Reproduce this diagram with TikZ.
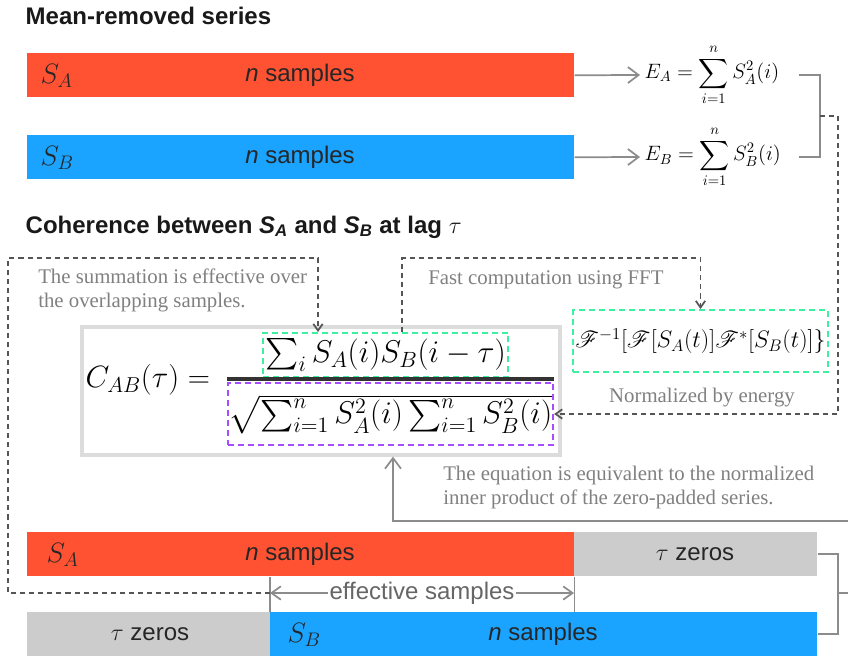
\RequirePackage{fix-cm}
\documentclass[tikz,border=0pt]{standalone}
\usepackage{amsmath,amssymb}
\usepackage{mathrsfs}
\usepackage{fontspec}
\setmainfont{Liberation Serif}
\setsansfont{Liberation Sans}
\usepackage{tikz}
\usetikzlibrary{arrows.meta}

\definecolor{sared}{HTML}{FF5233}
\definecolor{sbblue}{HTML}{1AA3FF}
\definecolor{zerogray}{HTML}{CCCCCC}
\definecolor{linegray}{HTML}{8C8C8C}
\definecolor{dashgray}{HTML}{555555}
\definecolor{notegray}{HTML}{808080}
\definecolor{fftgreen}{HTML}{3CF0A0}
\definecolor{denpurple}{HTML}{A64DFF}
\definecolor{framegray}{HTML}{DCDCDC}

\tikzset{
  series/.style={rectangle, inner sep=0pt, minimum height=33pt, anchor=north west},
  barlabel/.style={font=\sffamily\fontsize{18}{21}\selectfont, text=black!85},
  slabel/.style={anchor=west, font=\fontsize{21}{24}\selectfont, text=black!85},
  title/.style={anchor=west, font=\sffamily\bfseries\fontsize{18}{21}\selectfont, text=black!90},
  note/.style={anchor=north west, align=left, inner sep=0pt, text=notegray,
    font=\fontsize{15.6}{17.5}\selectfont},
  grayline/.style={linegray, line width=1.3pt},
  grayarrow/.style={grayline, -{Straight Barb[length=8pt,width=12pt]}},
  dasharrow/.style={dashgray, line width=1.3pt, dash pattern=on 3.8pt off 3pt,
    -{Straight Barb[length=5pt,width=7pt]}},
  greenbox/.style={draw=fftgreen, line width=1.4pt, dash pattern=on 4.5pt off 3pt, inner sep=0pt},
  purplebox/.style={draw=denpurple, line width=1.4pt, dash pattern=on 4.5pt off 3pt, inner sep=0pt},
  mathbig/.style={font=\fontsize{23.6}{28}\selectfont},
  energy/.style={anchor=west, font=\fontsize{15.6}{18}\selectfont}
}

\begin{document}
\begin{tikzpicture}[x=0.75pt,y=-0.75pt]
  \useasboundingbox (0,0) rectangle (848,656);

  % Titles
  \node[title] (t1) at (21,16) {Mean-removed series};
  \node[title] (t2) at (21,227) {Coherence between \textit{S}\textsubscript{\textit{A}} and \textit{S}\textsubscript{\textit{B}} at lag $\tau$};

  % Mean-removed series
  \node[series, fill=sared, minimum width=410.25pt] (sa) at (27,53) {};
  \node[slabel] (salab) at (36,76) {$S_A$};
  \node[barlabel] (sacount) at (300,75) {\textit{n} samples};
  \node[series, fill=sbblue, minimum width=410.25pt] (sb) at (27,135) {};
  \node[slabel] (sblab) at (36,158) {$S_B$};
  \node[barlabel] (sbcount) at (300,157) {\textit{n} samples};

  % Energies
  \node[energy] (ea) at (640,75) {$\displaystyle E_A=\sum_{i=1}^{n}S_A^2(i)$};
  \node[energy] (eb) at (640,157) {$\displaystyle E_B=\sum_{i=1}^{n}S_B^2(i)$};
  \draw[grayarrow] (sa.east) -- (ea.west);
  \draw[grayarrow] (sb.east) -- (eb.west);

  \coordinate (brA) at (799,75);
  \coordinate (brB) at (799,157);
  \coordinate (enmid) at (820,116);
  \coordinate (enc) at (838,116);
  \draw[grayline] (brA) -| (enmid) |- (brB);

  % Coherence formula
  \node[draw=framegray, line width=2.4pt, minimum width=358.5pt, minimum height=96pt] (cab) at (321,391) {};
  \node[font=\fontsize{23.1}{28}\selectfont, anchor=west] (lhs) at (81,380) {$C_{AB}(\tau) =$};
  \node[greenbox, mathbig, minimum width=184pt, minimum height=33pt] (num) at (385.5,355) {$\sum_i S_A(i)S_B(i-\tau)$};
  \node[purplebox, mathbig, minimum width=244pt, minimum height=46.5pt] (den) at (390.5,414) {$\sqrt{\sum_{i=1}^n S_A^2(i)\sum_{i=1}^n S_B^2(i)}$};
  \draw[black!80, line width=2.4pt] ([yshift=2.3pt]den.north west) -- ([yshift=2.3pt]den.north east);

  % FFT
  \node[greenbox, minimum width=191pt, minimum height=46.5pt, font=\fontsize{17.9}{21}\selectfont] (fft) at (700.5,341)
    {$\mathscr{F}^{-1}[\mathscr{F}[S_A(t)]\mathscr{F}^*[S_B(t)]\}$};

  % Notes
  \node[note] (sumnote) at (38,269) {The summation is effective over\\the overlapping samples.};
  \node[note] (fftnote) at (428,270) {Fast computation using FFT};
  \node[note, anchor=center] (ennote) at (702,398) {Normalized by energy};
  \node[note] (eqnote) at (443,466) {The equation is equivalent to the normalized\\inner product of the zero-padded series.};

  % Zero-padded series
  \node[series, fill=sared, minimum width=410.25pt] (sa2) at (27,532) {};
  \node[series, fill=zerogray, minimum width=182.25pt] (za) at (574,532) {};
  \node[series, fill=zerogray, minimum width=182.25pt] (zb) at (27,612) {};
  \node[series, fill=sbblue, minimum width=410.25pt] (sb2) at (270,612) {};
  \node[slabel] (sa2lab) at (42,555) {$S_A$};
  \node[barlabel] (sa2count) at (300,554) {\textit{n} samples};
  \node[barlabel] (zalab) at (695,554) {$\tau$ zeros};
  \node[barlabel] (zblab) at (150,634) {$\tau$ zeros};
  \node[slabel] (sb2lab) at (283,635) {$S_B$};
  \node[barlabel] (sb2count) at (543,634) {\textit{n} samples};

  % Effective samples
  \coordinate (effL) at (270,593);
  \coordinate (effR) at (574,593);
  \draw[grayline] (sb2.north west) -- (sb2.north west |- sa2.south);
  \draw[grayline] (sa2.south east) -- (sa2.south east |- sb2.north);
  \draw[grayline, {Straight Barb[length=7pt,width=10pt]}-{Straight Barb[length=7pt,width=10pt]}] (effL) -- (effR)
    node[midway, fill=white, inner sep=1pt, barlabel, text=black!60] (efflab) {effective samples};

  \coordinate (bk) at (838,593);
  \coordinate (bkr) at (848,593);
  \draw[grayline] (za.east) -| (bk) |- (sb2.east);
  \draw[grayline] (bk) -- (bkr);

  % Dashed connectors
  \coordinate (lc1) at (8,258);
  \coordinate (sumx) at (318,258);
  \coordinate (fftl) at (402,258);
  \draw[dasharrow] (effL) -| (lc1) -| (sumx |- num.north);
  \draw[dasharrow] (num.north -| fftl) |- (fft.north |- fftl) -- (fft.north);
  \draw[dasharrow] (enmid) -- (enc) |- (den.east);

  % Equivalence arrow
  \coordinate (eqr) at (848,521);
  \coordinate (eqx) at (393,0);
  \draw[grayarrow] (eqr) -| (eqx |- cab.south);
\end{tikzpicture}
\end{document}
